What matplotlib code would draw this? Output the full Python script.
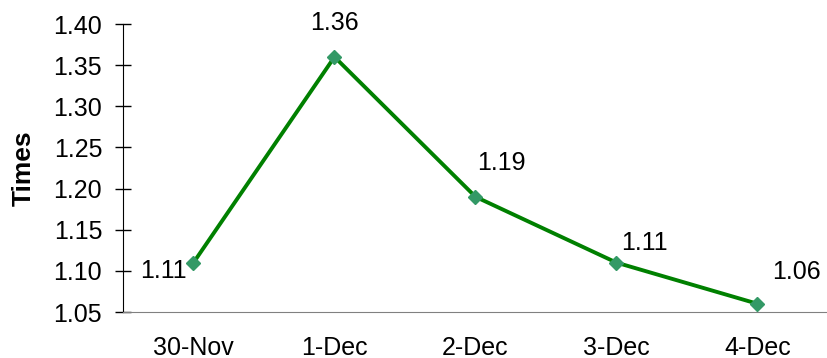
import matplotlib.pyplot as plt

plt.rcParams['font.family'] = ['Liberation Sans', 'DejaVu Sans']

dates = ["30-Nov", "1-Dec", "2-Dec", "3-Dec", "4-Dec"]
times = [1.11, 1.36, 1.19, 1.11, 1.06]
yticks = [1.05, 1.10, 1.15, 1.20, 1.25, 1.30, 1.35, 1.40]

# label offsets in pixels (dx, dy) from each point
label_off = [(-30, -8), (0, 34), (26, 34), (28, 20), (39, 32)]

fig = plt.figure(figsize=(8.28, 3.58), dpi=100)
ax = fig.add_axes([123 / 828, 46 / 358, 705 / 828, 288 / 358])

x = range(len(dates))
ax.plot(x, times, color="#008000", lw=2.8, zorder=2)
ax.plot(x, times, ls="none", marker="D", ms=7.5, color="#339966",
        mec="#339966", zorder=3)

for i, v in enumerate(times):
    dx, dy = label_off[i]
    ax.annotate(f"{v:.2f}", (i, v), xytext=(dx * 0.72, dy * 0.72),
                textcoords="offset points", ha="center", va="center",
                fontsize=18)

ax.set_xlim(-0.5, len(dates) - 0.5)
ax.set_ylim(1.05, 1.40)
ax.set_yticks(yticks)
ax.set_yticklabels([f"{t:.2f}" for t in yticks], fontsize=18)
ax.set_xticks(list(x))
ax.set_xticklabels(dates, fontsize=18)
ax.tick_params(axis="x", length=0, pad=17.5)
ax.tick_params(axis="y", direction="inout", length=12, width=1, pad=9)
ax.set_ylabel("Times", fontsize=19, fontweight="bold", labelpad=13)

for s in ["top", "right"]:
    ax.spines[s].set_visible(False)
ax.spines["left"].set_color("black")
ax.spines["bottom"].set_color("#808080")

fig.savefig("out.png", dpi=100)
